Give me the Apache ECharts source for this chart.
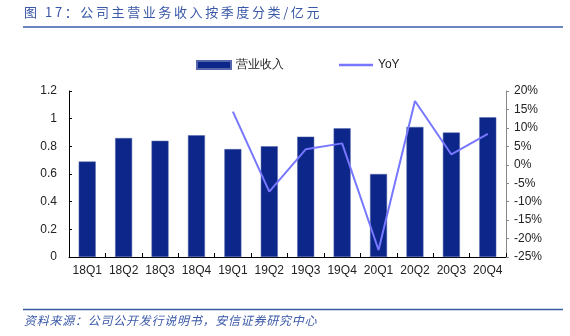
<!DOCTYPE html>
<html><head><meta charset="utf-8">
<script src="https://cdn.jsdelivr.net/npm/echarts@6/dist/echarts.min.js"></script>
<style>html,body{margin:0;padding:0;background:#fff}#c{width:570px;height:336px}</style>
</head><body><div id="c"></div>
<script>
const categories = ['18Q1','18Q2','18Q3','18Q4','19Q1','19Q2','19Q3','19Q4','20Q1','20Q2','20Q3','20Q4'];
const revenue = [0.69,0.86,0.84,0.88,0.78,0.80,0.87,0.93,0.60,0.94,0.90,1.01];
const yoy = [null,null,null,null,14.4,-7.3,4.2,5.8,-23.1,17.3,2.8,8.4];
const leftTicks = [0,0.2,0.4,0.6,0.8,1,1.2];
const rightTicks = [-25,-20,-15,-10,-5,0,5,10,15,20];
const titleText = '图 17：公司主营业务收入按季度分类/亿元';
const sourceText = '资料来源：公司公开发行说明书，安信证券研究中心';

function spaced(s, sp){ return Array.from(s).join(sp); }

const chart = echarts.init(document.getElementById('c'), null, {renderer:'canvas'});
const font = '"Liberation Sans", Arial, sans-serif';
chart.setOption({
  animation:false,
  textStyle:{fontFamily:font},
  grid:{left:69,right:64,top:91,bottom:79},
  legend:{
    top:54, left:191, itemGap:55, itemWidth:34, itemHeight:8,
    textStyle:{fontSize:12,color:'#222',fontFamily:font},
    data:[{name:'营业收入',icon:'rect'},{name:'YoY',icon:'path://M0,0 L34,0 L34,2.5 L0,2.5 Z',itemStyle:{color:'#7777ff'}}]
  },
  xAxis:{
    type:'category', data:categories,
    axisLine:{lineStyle:{color:'#000',width:1}},
    axisTick:{show:true,inside:true,length:4,lineStyle:{color:'#000'}},
    axisLabel:{color:'#222',fontSize:12,margin:8,interval:0}
  },
  yAxis:[{
    type:'value', min:0, max:1.2, interval:0.2,
    axisLine:{show:true,lineStyle:{color:'#000'}},
    axisTick:{show:true,inside:true,length:3,lineStyle:{color:'#000'}},
    splitLine:{show:false},
    axisLabel:{color:'#222',fontSize:12,margin:12,formatter:v=>String(+v.toFixed(1))}
  },{
    type:'value', min:-25, max:20, interval:5,
    axisLine:{show:true,lineStyle:{color:'#888'}},
    axisTick:{show:true,length:3,lineStyle:{color:'#888'}},
    splitLine:{show:false},
    axisLabel:{color:'#222',fontSize:12,margin:8,formatter:v=>v+'%'}
  }],
  series:[{
    name:'营业收入', type:'bar', data:revenue, barWidth:17,
    itemStyle:{color:'#0c2689',borderColor:'#5566aa',borderWidth:0.5}
  },{
    name:'YoY', type:'line', yAxisIndex:1, data:yoy, symbol:'none',
    lineStyle:{color:'#7777ff',width:2}, itemStyle:{color:'#7777ff'}
  }],
  graphic:[
    {type:'text',left:24,top:6,style:{text:spaced(titleText,'\u2009'),fontSize:13,fill:'#3a58a8',fontFamily:'"Noto Sans CJK SC", sans-serif'}},
    {type:'line',shape:{x1:23,y1:27,x2:563,y2:27},style:{stroke:'#3a5aa8',lineWidth:1.5}},
    {type:'line',shape:{x1:23,y1:309.5,x2:563,y2:309.5},style:{stroke:'#3a5aa8',lineWidth:1.5}},
    {type:'text',left:24,top:314,style:{text:spaced(sourceText,'\u200A'),fontSize:12,fontStyle:'italic',fill:'#3a58a8',fontFamily:'"Noto Sans CJK SC", sans-serif'}}
  ]
});
</script></body></html>
